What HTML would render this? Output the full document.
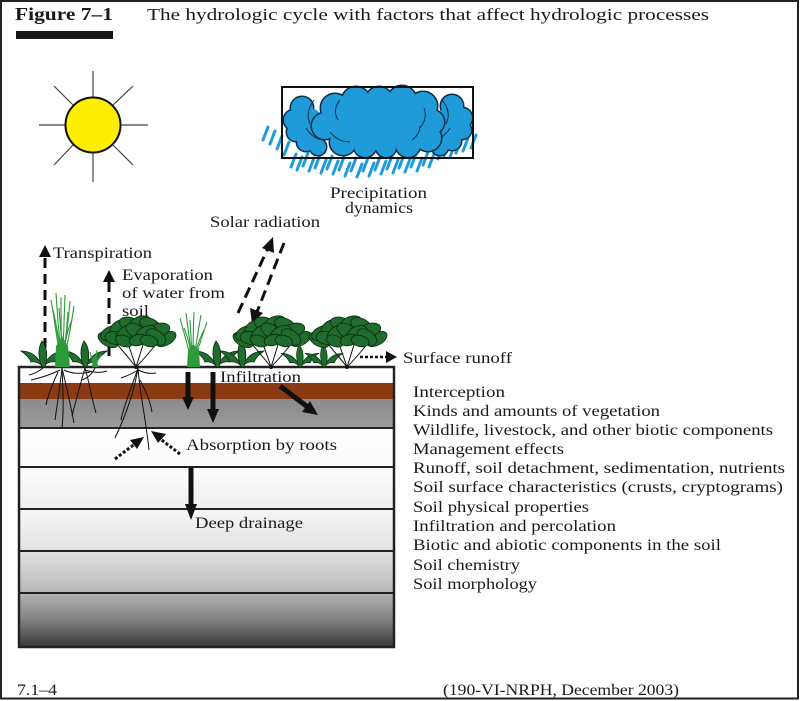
<!DOCTYPE html>
<html>
<head>
<meta charset="utf-8">
<style>
  html, body { margin:0; padding:0; background:#fff; }
  svg { display:block; }
  text { font-family: "Liberation Serif", "DejaVu Serif", serif; fill:#1a1a1a; }
</style>
</head>
<body>
<svg width="800" height="701" viewBox="0 0 800 701" xmlns="http://www.w3.org/2000/svg">
  <defs>
    <linearGradient id="gGray" x1="0" y1="0" x2="0" y2="1">
      <stop offset="0" stop-color="#8a8b8c"/>
      <stop offset="1" stop-color="#9a9b9c"/>
    </linearGradient>
    <linearGradient id="g3" x1="0" y1="0" x2="0" y2="1">
      <stop offset="0" stop-color="#ffffff"/>
      <stop offset="1" stop-color="#fbfbfb"/>
    </linearGradient>
    <linearGradient id="g4" x1="0" y1="0" x2="0" y2="1">
      <stop offset="0" stop-color="#fdfdfd"/>
      <stop offset="1" stop-color="#eeeeee"/>
    </linearGradient>
    <linearGradient id="g5" x1="0" y1="0" x2="0" y2="1">
      <stop offset="0" stop-color="#f6f6f6"/>
      <stop offset="1" stop-color="#e2e2e2"/>
    </linearGradient>
    <linearGradient id="g6" x1="0" y1="0" x2="0" y2="1">
      <stop offset="0" stop-color="#e2e2e2"/>
      <stop offset="1" stop-color="#b8b8b8"/>
    </linearGradient>
    <linearGradient id="g7" x1="0" y1="0" x2="0" y2="1">
      <stop offset="0" stop-color="#b4b4b4"/>
      <stop offset="0.5" stop-color="#808080"/>
      <stop offset="1" stop-color="#383838"/>
    </linearGradient>

    <g id="seed" fill="#1f6e2e" stroke="#0d2a12" stroke-width="0.8">
      <path d="M0,0 C-4,-9 -11,-16 -22,-16 C-18,-13 -14,-10 -12,-5 C-8,-6 -3,-4 0,0Z"/>
      <path d="M0,0 C4,-9 11,-16 22,-16 C18,-13 14,-10 12,-5 C8,-6 3,-4 0,0Z"/>
      <path d="M-1,0 C-5,-10 -5,-19 -1,-26 C4,-20 5,-11 2,0Z"/>
    </g>

    <g id="leaves" fill="#1e6b2d" stroke="#0b2a11" stroke-width="0.8">
      <ellipse cx="-28" cy="-27" rx="11" ry="6" transform="rotate(30 -28 -27)"/>
      <ellipse cx="30" cy="-28" rx="11" ry="6" transform="rotate(-30 30 -28)"/>
      <ellipse cx="-25" cy="-34" rx="11" ry="6.5" transform="rotate(-25 -25 -34)"/>
      <ellipse cx="-16" cy="-40" rx="11" ry="6.5" transform="rotate(-30 -16 -40)"/>
      <ellipse cx="-6" cy="-43" rx="11" ry="6.5" transform="rotate(15 -6 -43)"/>
      <ellipse cx="4" cy="-44" rx="11" ry="6.5" transform="rotate(-20 4 -44)"/>
      <ellipse cx="14" cy="-42" rx="11" ry="6.5" transform="rotate(25 14 -42)"/>
      <ellipse cx="23" cy="-37" rx="11" ry="6.5" transform="rotate(-15 23 -37)"/>
      <ellipse cx="-20" cy="-29" rx="11" ry="6.5" transform="rotate(10 -20 -29)"/>
      <ellipse cx="-10" cy="-34" rx="11" ry="6.5" transform="rotate(-35 -10 -34)"/>
      <ellipse cx="0" cy="-36" rx="11" ry="6.5" transform="rotate(30 0 -36)"/>
      <ellipse cx="10" cy="-34" rx="11" ry="6.5" transform="rotate(-25 10 -34)"/>
      <ellipse cx="20" cy="-30" rx="11" ry="6.5" transform="rotate(35 20 -30)"/>
      <ellipse cx="-12" cy="-26" rx="9" ry="5.5" transform="rotate(20 -12 -26)"/>
      <ellipse cx="2" cy="-27" rx="9" ry="5.5" transform="rotate(-15 2 -27)"/>
      <ellipse cx="13" cy="-26" rx="9" ry="5.5" transform="rotate(15 13 -26)"/>
    </g>
    <g id="shrub">
      <g fill="none" stroke="#111" stroke-width="1">
        <path d="M0,0 Q-8,-10 -20,-24"/>
        <path d="M0,0 Q-4,-12 -9,-26"/>
        <path d="M0,0 Q4,-12 8,-26"/>
        <path d="M0,0 Q10,-10 21,-24"/>
      </g>
      <circle cx="0" cy="0" r="2" fill="#111"/>
      <use href="#leaves"/>
    </g>
  </defs>

  <!-- Frame -->
  <rect x="1" y="1" width="797" height="697.5" fill="none" stroke="#222" stroke-width="2"/>

  <!-- Header -->
  <text x="15" y="20" font-size="18" font-weight="bold" textLength="98" lengthAdjust="spacingAndGlyphs">Figure 7–1</text>
  <text x="147" y="20" font-size="17" textLength="562" lengthAdjust="spacingAndGlyphs">The hydrologic cycle with factors that affect hydrologic processes</text>
  <rect x="16" y="31" width="97" height="8" fill="#151515"/>

  <!-- Sun -->
  <g stroke="#444" stroke-width="1.2">
    <line x1="93" y1="71" x2="93" y2="97"/>
    <line x1="93" y1="153" x2="93" y2="182"/>
    <line x1="39" y1="125" x2="65" y2="125"/>
    <line x1="121" y1="125" x2="148" y2="125"/>
    <line x1="54" y1="86" x2="73" y2="105"/>
    <line x1="133" y1="86" x2="113" y2="105"/>
    <line x1="54" y1="165" x2="73" y2="145"/>
    <line x1="133" y1="165" x2="113" y2="145"/>
  </g>
  <circle cx="93" cy="125" r="27.5" fill="#ffee00" stroke="#111" stroke-width="2"/>

  <!-- Rain -->
  <g stroke="#1e9bd8" stroke-width="3" stroke-linecap="round">
    <line x1="263" y1="140" x2="268" y2="127"/>
    <line x1="270" y1="144" x2="275" y2="131"/>
    <line x1="277" y1="149" x2="282" y2="136"/>
    <line x1="284" y1="155" x2="289" y2="142"/>
    <line x1="291" y1="167" x2="296" y2="154"/>
    <line x1="297" y1="170" x2="302" y2="157"/>
    <line x1="303" y1="166" x2="308" y2="153"/>
    <line x1="309" y1="171" x2="314" y2="158"/>
    <line x1="315" y1="168" x2="320" y2="155"/>
    <line x1="321" y1="173" x2="326" y2="160"/>
    <line x1="327" y1="169" x2="332" y2="156"/>
    <line x1="333" y1="174" x2="338" y2="161"/>
    <line x1="339" y1="170" x2="344" y2="157"/>
    <line x1="345" y1="176" x2="350" y2="163"/>
    <line x1="351" y1="171" x2="356" y2="158"/>
    <line x1="357" y1="177" x2="362" y2="164"/>
    <line x1="363" y1="171" x2="368" y2="158"/>
    <line x1="369" y1="176" x2="374" y2="163"/>
    <line x1="375" y1="170" x2="380" y2="157"/>
    <line x1="381" y1="174" x2="386" y2="161"/>
    <line x1="387" y1="169" x2="392" y2="156"/>
    <line x1="393" y1="173" x2="398" y2="160"/>
    <line x1="399" y1="168" x2="404" y2="155"/>
    <line x1="405" y1="172" x2="410" y2="159"/>
    <line x1="411" y1="167" x2="416" y2="154"/>
    <line x1="417" y1="171" x2="422" y2="158"/>
    <line x1="423" y1="165" x2="428" y2="152"/>
    <line x1="429" y1="167" x2="434" y2="154"/>
    <line x1="438" y1="159" x2="443" y2="146"/>
    <line x1="444" y1="156" x2="449" y2="143"/>
    <line x1="450" y1="157" x2="455" y2="144"/>
    <line x1="456" y1="153" x2="461" y2="140"/>
    <line x1="463" y1="151" x2="468" y2="138"/>
    <line x1="471" y1="148" x2="476" y2="135"/>
  </g>

  <!-- Cloud: side clusters (outline then fill to hide inner strokes) -->
  <g fill="#1e9bd8" stroke="#0a2c46" stroke-width="3">
    <circle cx="302" cy="108" r="11"/>
    <circle cx="294" cy="120" r="10"/>
    <circle cx="296" cy="132" r="9"/>
    <circle cx="306" cy="142" r="9"/>
    <circle cx="318" cy="147" r="8"/>
    <circle cx="452" cy="106" r="11"/>
    <circle cx="462" cy="118" r="10"/>
    <circle cx="462" cy="130" r="9"/>
    <circle cx="452" cy="141" r="9"/>
    <circle cx="440" cy="147" r="8"/>
  </g>
  <g fill="#1e9bd8">
    <circle cx="302" cy="108" r="11"/>
    <circle cx="294" cy="120" r="10"/>
    <circle cx="296" cy="132" r="9"/>
    <circle cx="306" cy="142" r="9"/>
    <circle cx="318" cy="147" r="8"/>
    <circle cx="452" cy="106" r="11"/>
    <circle cx="462" cy="118" r="10"/>
    <circle cx="462" cy="130" r="9"/>
    <circle cx="452" cy="141" r="9"/>
    <circle cx="440" cy="147" r="8"/>
    <ellipse cx="310" cy="126" rx="14" ry="18"/>
    <ellipse cx="448" cy="126" rx="14" ry="18"/>
  </g>
  <g fill="none" stroke="#0a2c46" stroke-width="1">
    <path d="M314,100 Q305,112 310,124"/>
    <path d="M306,128 Q312,138 322,140"/>
    <path d="M442,100 Q452,112 446,124"/>
    <path d="M450,128 Q444,138 434,140"/>
  </g>
  <!-- Cloud: central blob -->
  <g fill="#1e9bd8" stroke="#0a2c46" stroke-width="3">
    <circle cx="335" cy="108" r="14"/>
    <circle cx="356" cy="101" r="14"/>
    <circle cx="379" cy="100" r="13"/>
    <circle cx="402" cy="100" r="14"/>
    <circle cx="423" cy="106" r="14"/>
    <circle cx="432" cy="122" r="12"/>
    <circle cx="428" cy="138" r="13"/>
    <circle cx="408" cy="145" r="12"/>
    <circle cx="386" cy="147" r="10"/>
    <circle cx="365" cy="146" r="11"/>
    <circle cx="343" cy="142" r="13"/>
    <circle cx="325" cy="126" r="13"/>
  </g>
  <g fill="#1e9bd8">
    <circle cx="335" cy="108" r="14"/>
    <circle cx="356" cy="101" r="14"/>
    <circle cx="379" cy="100" r="13"/>
    <circle cx="402" cy="100" r="14"/>
    <circle cx="423" cy="106" r="14"/>
    <circle cx="432" cy="122" r="12"/>
    <circle cx="428" cy="138" r="13"/>
    <circle cx="408" cy="145" r="12"/>
    <circle cx="386" cy="147" r="10"/>
    <circle cx="365" cy="146" r="11"/>
    <circle cx="343" cy="142" r="13"/>
    <circle cx="325" cy="126" r="13"/>
    <ellipse cx="378" cy="124" rx="50" ry="26"/>
  </g>
  <g fill="none" stroke="#0a2c46" stroke-width="1">
    <path d="M340,100 Q332,110 338,120"/>
    <path d="M330,132 Q338,142 350,142"/>
    <path d="M420,128 Q428,118 424,108"/>
    <path d="M412,140 Q420,134 420,126"/>
  </g>
  <rect x="282" y="87" width="191" height="71" fill="none" stroke="#111" stroke-width="2"/>

  <text x="330" y="198" font-size="16" textLength="97" lengthAdjust="spacingAndGlyphs">Precipitation</text>
  <text x="345" y="213" font-size="16" textLength="68" lengthAdjust="spacingAndGlyphs">dynamics</text>
  <text x="210" y="227" font-size="16" textLength="110" lengthAdjust="spacingAndGlyphs">Solar radiation</text>

  <!-- Solar radiation dashed arrows -->
  <g stroke="#111" stroke-width="3" stroke-dasharray="11,6" fill="none">
    <line x1="238" y1="313" x2="268" y2="248"/>
    <line x1="284" y1="243" x2="257" y2="312"/>
  </g>
  <polygon points="273,237 274,253 262,248" fill="#111"/>
  <polygon points="252,324 250,308 263,313" fill="#111"/>

  <!-- Transpiration -->
  <line x1="45" y1="258" x2="45" y2="362" stroke="#111" stroke-width="3" stroke-dasharray="10,6"/>
  <polygon points="45,245 39,257 51,257" fill="#111"/>
  <text x="53" y="258" font-size="16" textLength="99" lengthAdjust="spacingAndGlyphs">Transpiration</text>

  <!-- Evaporation -->
  <line x1="109" y1="282" x2="109" y2="358" stroke="#111" stroke-width="3" stroke-dasharray="10,6"/>
  <polygon points="109,270 103,282 115,282" fill="#111"/>
  <text x="122" y="280" font-size="16" textLength="91" lengthAdjust="spacingAndGlyphs">Evaporation</text>
  <text x="122" y="298" font-size="16" textLength="103" lengthAdjust="spacingAndGlyphs">of water from</text>
  <text x="122" y="316" font-size="16" textLength="27" lengthAdjust="spacingAndGlyphs">soil</text>

  <!-- Soil profile -->
  <rect x="19" y="367" width="375" height="16" fill="#ffffff"/>
  <rect x="19" y="383" width="375" height="16" fill="#8b3b14"/>
  <rect x="19" y="399" width="375" height="29" fill="url(#gGray)"/>
  <rect x="19" y="428" width="375" height="39" fill="url(#g3)"/>
  <rect x="19" y="467" width="375" height="42" fill="url(#g4)"/>
  <rect x="19" y="509" width="375" height="42" fill="url(#g5)"/>
  <rect x="19" y="551" width="375" height="42" fill="url(#g6)"/>
  <rect x="19" y="593" width="375" height="54" fill="url(#g7)"/>
  <g stroke="#222" stroke-width="2">
    <line x1="19" y1="428" x2="394" y2="428"/>
    <line x1="19" y1="467" x2="394" y2="467"/>
    <line x1="19" y1="509" x2="394" y2="509"/>
    <line x1="19" y1="551" x2="394" y2="551"/>
    <line x1="19" y1="593" x2="394" y2="593"/>
  </g>
  <rect x="19" y="367" width="375" height="280" fill="none" stroke="#222" stroke-width="2.5"/>

  <!-- Roots -->
  <g fill="none" stroke="#111" stroke-width="1">
    <path d="M62,368 C60,385 58,400 55,420"/>
    <path d="M62,368 C66,385 70,402 74,423"/>
    <path d="M62,368 C63,390 64,410 62,428"/>
    <path d="M60,370 C50,375 40,378 31,380"/>
    <path d="M64,370 C72,374 80,374 90,372"/>
    <path d="M58,372 C52,385 48,395 46,405"/>
    <path d="M85,368 C80,385 76,400 72,416"/>
    <path d="M85,368 C90,385 92,400 96,413"/>
    <path d="M85,370 C95,373 101,373 107,371"/>
    <path d="M43,368 C38,372 34,374 29,375"/>
    <path d="M95,368 C92,374 88,378 82,380"/>
    <path d="M138,368 C134,392 126,415 115,438"/>
    <path d="M138,368 C140,395 146,420 149,450"/>
    <path d="M138,368 C130,392 124,405 121,420"/>
    <path d="M138,370 C132,374 127,376 121,378"/>
    <path d="M138,370 C144,373 150,374 156,373"/>
    <path d="M140,380 C146,392 150,400 152,412"/>
  </g>

  <!-- Plants -->
  <use href="#seed" x="43" y="367"/>
  <use href="#seed" x="85" y="367"/>
  <use href="#seed" x="217" y="367"/>
  <use href="#seed" x="242" y="367"/>
  <g transform="translate(300 367) scale(0.85)"><use href="#seed"/></g>
  <g transform="translate(324 367) scale(0.85)"><use href="#seed"/></g>
  <use href="#shrub" x="136" y="367"/>
  <use href="#shrub" x="271" y="367"/>
  <use href="#shrub" x="347" y="367"/>

  <!-- Grasses -->
  <g stroke="#2e9b3a" stroke-width="1.1" fill="none">
    <path d="M62,366 Q56,330 51,300"/>
    <path d="M62,366 Q58,325 56,293"/>
    <path d="M62,366 Q61,330 61,297"/>
    <path d="M62,366 Q64,330 65,295"/>
    <path d="M62,366 Q67,335 70,301"/>
    <path d="M62,366 Q69,340 74,306"/>
    <path d="M62,366 Q57,340 54,318"/>
    <path d="M62,366 Q66,340 68,312"/>
    <path d="M62,366 Q62,340 59,308"/>
    <path d="M62,366 Q59,335 53,310"/>
    <path d="M62,366 Q65,335 72,320"/>
    <path d="M95,366 Q92,360 90,352"/>
    <path d="M95,366 Q96,358 97,350"/>
    <path d="M95,366 Q98,360 101,354"/>
    <path d="M193,366 Q186,340 180,318"/>
    <path d="M193,366 Q189,335 186,313"/>
    <path d="M193,366 Q193,335 194,312"/>
    <path d="M193,366 Q197,338 201,315"/>
    <path d="M193,366 Q200,342 207,322"/>
    <path d="M193,366 Q190,342 184,328"/>
    <path d="M193,366 Q196,345 204,330"/>
    <path d="M193,366 Q191,340 190,320"/>
  </g>
  <polygon points="55,367 56,346 62,336 68,346 70,367" fill="#2e9b3a"/>
  <polygon points="92,367 93,358 95,355 97,358 98,367" fill="#2e9b3a"/>
  <polygon points="187,367 188,350 193,344 199,350 200,367" fill="#2e9b3a"/>

  <!-- Surface runoff -->
  <line x1="360" y1="357" x2="387" y2="357" stroke="#111" stroke-width="2.5" stroke-dasharray="3,2"/>
  <polygon points="397,357 386,351 386,363" fill="#111"/>
  <text x="403" y="363" font-size="16" textLength="109" lengthAdjust="spacingAndGlyphs">Surface runoff</text>

  <!-- Infiltration arrows -->
  <text x="220" y="382" font-size="16" textLength="81" lengthAdjust="spacingAndGlyphs">Infiltration</text>
  <line x1="188" y1="372" x2="188" y2="399" stroke="#111" stroke-width="5"/>
  <polygon points="188,410 182,397 194,397" fill="#111"/>
  <line x1="213" y1="372" x2="213" y2="411" stroke="#111" stroke-width="5"/>
  <polygon points="213,423 207,409 219,409" fill="#111"/>
  <line x1="280" y1="386" x2="309" y2="408" stroke="#111" stroke-width="5"/>
  <polygon points="318,415 302,412 310,401" fill="#111"/>

  <!-- Absorption by roots -->
  <line x1="115" y1="459" x2="136" y2="443" stroke="#111" stroke-width="3" stroke-dasharray="3,2"/>
  <polygon points="144,437 130,440 137,449" fill="#111"/>
  <line x1="180" y1="454" x2="159" y2="438" stroke="#111" stroke-width="3" stroke-dasharray="3,2"/>
  <polygon points="151,431 166,434 158,443" fill="#111"/>
  <text x="186" y="450" font-size="16" textLength="151" lengthAdjust="spacingAndGlyphs">Absorption by roots</text>

  <!-- Deep drainage -->
  <line x1="191" y1="468" x2="191" y2="506" stroke="#111" stroke-width="5"/>
  <polygon points="191,520 185,504 197,504" fill="#111"/>
  <text x="195" y="528" font-size="16" textLength="108" lengthAdjust="spacingAndGlyphs">Deep drainage</text>

  <!-- Right list -->
  <g font-size="16">
    <text x="413" y="397" textLength="92" lengthAdjust="spacingAndGlyphs">Interception</text>
    <text x="413" y="416" textLength="247" lengthAdjust="spacingAndGlyphs">Kinds and amounts of vegetation</text>
    <text x="413" y="435" textLength="360" lengthAdjust="spacingAndGlyphs">Wildlife, livestock, and other biotic components</text>
    <text x="413" y="454" textLength="151" lengthAdjust="spacingAndGlyphs">Management effects</text>
    <text x="413" y="473" textLength="372" lengthAdjust="spacingAndGlyphs">Runoff, soil detachment, sedimentation, nutrients</text>
    <text x="413" y="492" textLength="370" lengthAdjust="spacingAndGlyphs">Soil surface characteristics (crusts, cryptograms)</text>
    <text x="413" y="512" textLength="176" lengthAdjust="spacingAndGlyphs">Soil physical properties</text>
    <text x="413" y="531" textLength="203" lengthAdjust="spacingAndGlyphs">Infiltration and percolation</text>
    <text x="413" y="550" textLength="308" lengthAdjust="spacingAndGlyphs">Biotic and abiotic components in the soil</text>
    <text x="413" y="570" textLength="107" lengthAdjust="spacingAndGlyphs">Soil chemistry</text>
    <text x="413" y="589" textLength="124" lengthAdjust="spacingAndGlyphs">Soil morphology</text>
  </g>

  <!-- Footer -->
  <text x="17" y="695" font-size="16" textLength="40" lengthAdjust="spacingAndGlyphs">7.1–4</text>
  <text x="443" y="695" font-size="16" textLength="236" lengthAdjust="spacingAndGlyphs">(190-VI-NRPH, December 2003)</text>
</svg>
</body>
</html>
